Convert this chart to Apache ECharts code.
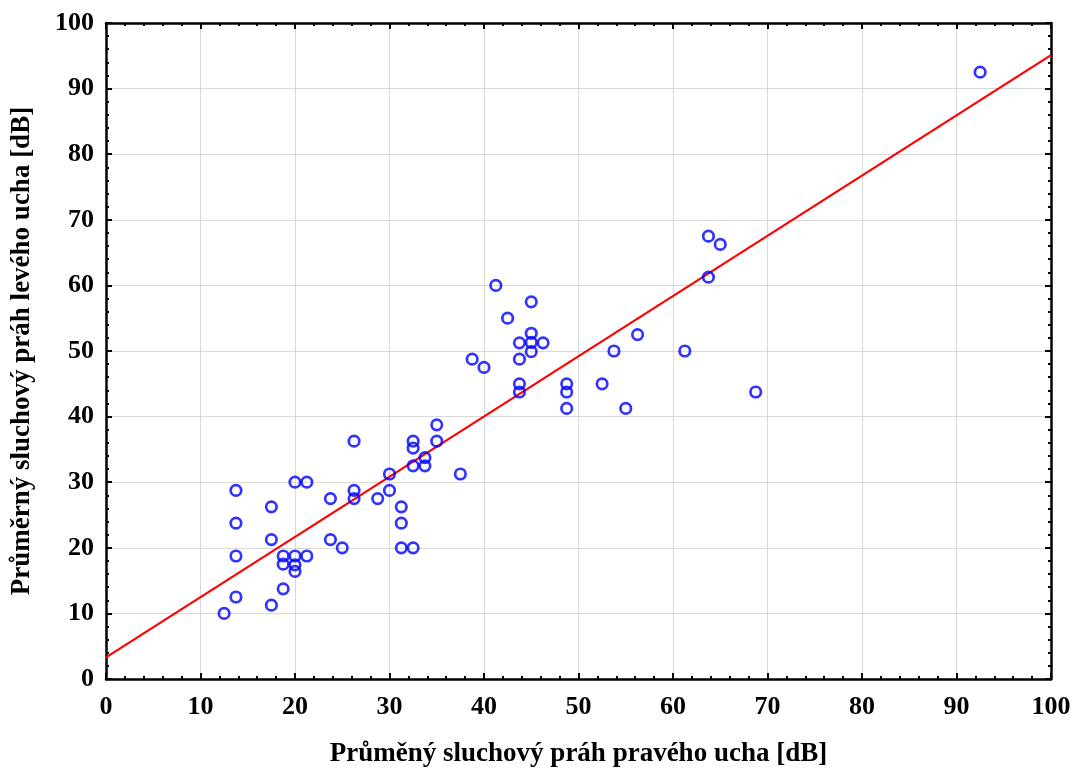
<!DOCTYPE html>
<html>
<head>
<meta charset="utf-8">
<script src="https://cdn.jsdelivr.net/npm/echarts@6/dist/echarts.min.js"></script>
<style>html,body{margin:0;padding:0;background:#fff}#c{width:1075px;height:771px}</style>
</head>
<body>
<div id="c"></div>
<script>
// Right-ear average threshold (x) and left-ear average threshold (y), dB
const rightEar = [12.5,13.75,13.75,13.75,13.75,17.5,17.5,17.5,18.75,18.75,18.75,20,20,20,20,21.25,21.25,23.75,23.75,25,26.25,26.25,26.25,28.75,30,30,31.25,31.25,31.25,32.5,32.5,32.5,32.5,33.75,33.75,35,35,37.5,38.75,40,41.25,42.5,43.75,43.75,43.75,43.75,45,45,45,45,46.25,48.75,48.75,48.75,52.5,53.75,55,56.25,61.25,63.75,65,63.75,68.75,92.5];
const leftEar  = [10,12.5,18.75,23.75,28.75,11.25,21.25,26.25,13.75,17.5,18.75,18.75,17.4,16.4,30,18.75,30,21.25,27.5,20,36.25,28.75,27.5,27.5,28.75,31.25,26.25,23.75,20,20,36.25,35.2,32.5,33.75,32.5,38.75,36.25,31.25,48.75,47.5,60,55,51.25,48.75,45,43.75,57.5,52.7,51.3,49.9,51.25,45,43.75,41.25,45,50,41.25,52.5,50,67.5,66.25,61.25,43.75,92.5];
const fitIntercept = 3.3;
const fitSlope = 0.918;
const axisTicks = [0,10,20,30,40,50,60,70,80,90,100];
const xTitle = 'Průměný sluchový práh pravého ucha [dB]';
const yTitle = 'Průměrný sluchový práh levého ucha [dB]';

const points = rightEar.map((v,i)=>[v,leftEar[i]]);
const x0 = axisTicks[0], x1 = axisTicks[axisTicks.length-1];
const fitLine = [[x0, fitIntercept + fitSlope*x0], [x1, fitIntercept + fitSlope*x1]];

const font = 'Liberation Serif';
const lbl = {fontFamily: font, fontWeight: 'bold', fontSize: 26, color: '#000'};
const nameStyle = {fontFamily: font, fontWeight:'bold', fontSize:27, color:'#000'};
function mkAxis(pos, show){
  return {
    type:'value', min:x0, max:x1, interval:10, position: pos,
    axisLine:{show:true, onZero:false, lineStyle:{color:'#000', width:2.5}},
    axisTick:{show:true, inside:true, length:6, lineStyle:{color:'#000', width:2}},
    minorTick:{show:true, splitNumber:5, length:3, lineStyle:{color:'#000', width:2}},
    splitLine:{show: show, lineStyle:{color:'#d9d9d9', width:1}},
    axisLabel: Object.assign({show: show, margin: pos==='bottom'?15:12}, lbl)
  };
}
const xb = mkAxis('bottom', true);
xb.name = xTitle; xb.nameLocation = 'middle'; xb.nameGap = 62; xb.nameTextStyle = nameStyle;
const xt = mkAxis('top', false);
const yl = mkAxis('left', true);
yl.name = yTitle; yl.nameLocation='middle'; yl.nameGap = 70; yl.nameTextStyle = nameStyle;
const yr = mkAxis('right', false);

const chart = echarts.init(document.getElementById('c'));
chart.setOption({
  animation:false,
  backgroundColor:'#fff',
  grid:{left:106, right:24, top:23, bottom:92, outerBoundsMode:'none', containLabel:false},
  xAxis:[xb, xt],
  yAxis:[yl, yr],
  series:[
    {type:'line', data: fitLine, symbol:'none', lineStyle:{color:'#ff0000', width:2.2}, z:2},
    {type:'scatter', data: points, symbol:'circle', symbolSize:10.5, itemStyle:{color:'rgba(0,0,0,0)', borderColor:'#0000ff', borderWidth:2.7}, z:3}
  ]
});
</script>
</body>
</html>
